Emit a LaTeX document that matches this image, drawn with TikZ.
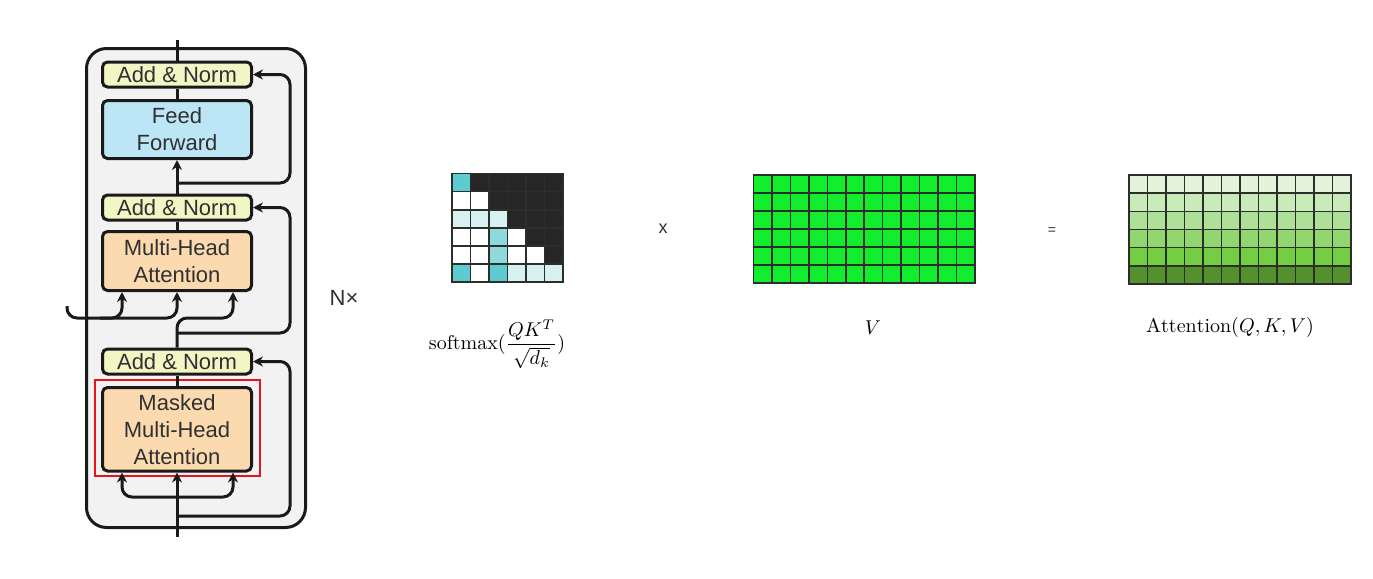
\documentclass[tikz,border=0pt]{standalone}
\usepackage{fontspec}
\usetikzlibrary{arrows.meta}
\newfontfamily\boxfont{Liberation Sans}

\definecolor{boxline}{HTML}{1A1A1A}
\definecolor{boxtext}{HTML}{303030}
\definecolor{layerfill}{HTML}{F2F2F2}
\definecolor{normfill}{HTML}{F2F5C4}
\definecolor{fffill}{HTML}{BCE5F5}
\definecolor{attfill}{HTML}{FCDAB0}
\definecolor{maskred}{HTML}{E5141C}
\definecolor{cellline}{HTML}{2A2F2A}
\definecolor{sftA}{HTML}{5ECBD1}
\definecolor{sftB}{HTML}{8FD8DC}
\definecolor{sftC}{HTML}{D7F1F3}
\definecolor{sftK}{HTML}{262626}
\definecolor{vgreen}{HTML}{12EE2E}
\definecolor{attA}{HTML}{E4F4DC}
\definecolor{attB}{HTML}{C9EAB9}
\definecolor{attC}{HTML}{AEE099}
\definecolor{attD}{HTML}{93D66F}
\definecolor{attE}{HTML}{74CD42}
\definecolor{attF}{HTML}{55902E}

\tikzset{
  block/.style={draw=boxline, line width=1.5pt, rounded corners=2.5pt,
    minimum width=74.5pt, inner sep=0pt, align=center, text=boxtext,
    font=\boxfont\fontsize{11}{13.5}\selectfont},
  addnorm/.style={block, fill=normfill, minimum height=12.5pt},
  ffbox/.style={block, fill=fffill, minimum height=29pt},
  attbox/.style={block, fill=attfill},
  wire/.style={line width=1.5pt, draw=boxline},
  conn/.style={wire, rounded corners=5pt, -{Stealth[length=5pt,width=5pt]}},
  cell/.style={draw=cellline, line width=0.8pt},
  sign/.style={text=boxtext, font=\boxfont\fontsize{9}{10}\selectfont},
}

\begin{document}
\begin{tikzpicture}[x=0.5pt, y=-0.5pt]
  \useasboundingbox (0,0) rectangle (1373,579);

  % Decoder layer
  \node (layer) [draw=boxline, line width=1.5pt, rounded corners=10pt, fill=layerfill,
    minimum width=109.5pt, minimum height=239.5pt] at (196,288) {};
  \node (mask) [draw=maskred, line width=1pt, minimum width=82.5pt, minimum height=48pt]
    at (177.5,428) {};

  \node (addA) [addnorm] at (177,74.5) {Add \& Norm};
  \node (ff) [ffbox] at (177,129.5) {Feed\\Forward};
  \node (addB) [addnorm] at (177,207.5) {Add \& Norm};
  \node (mha) [attbox, minimum height=29.5pt] at (177,261) {Multi-Head\\Attention};
  \node (addC) [addnorm] at (177,361.5) {Add \& Norm};
  \node (mmha) [attbox, minimum height=41.75pt] at (177,429.25) {Masked\\Multi-Head\\Attention};

  \node (nx) [text=boxtext, font=\boxfont\fontsize{11}{13}\selectfont] at (344,298) {N×};

  \coordinate (top) at (177,40);
  \coordinate (bot) at (177,537);
  \coordinate (rx) at (290,0);
  \coordinate (r1) at (177,183);
  \coordinate (r2) at (177,333);
  \coordinate (r3) at (177,516);
  \coordinate (kin) at (67,306);
  \coordinate (kb) at (100,318);
  \coordinate (kv) at (177,318);
  \coordinate (b0) at (177,497);

  % Main stream
  \draw[wire] (addA.north) -- (top);
  \draw[wire] (ff.north) -- (addA.south);
  \draw[conn] (addB.north) -- (ff.south);
  \draw[wire] (mha.north) -- (addB.south);
  \draw[wire] (mmha.north) -- (addC.south);
  \draw[conn] (bot) -- (mmha.south);

  % Residual paths
  \draw[conn] (r1) -- (r1 -| rx) |- (addA.east);
  \draw[conn] (r2) -- (r2 -| rx) |- (addB.east);
  \draw[conn] (r3) -- (r3 -| rx) |- (addC.east);

  % Attention inputs
  \draw[conn] (kin) |- (kv) -- (mha.south);
  \draw[conn] (kb) -| ([xshift=-27.5pt]mha.south);
  \draw[conn] (addC.north) -- (kv) -| ([xshift=28pt]mha.south);
  \draw[conn] (b0) -| ([xshift=-27.5pt]mmha.south);
  \draw[conn] (b0) -| ([xshift=28pt]mmha.south);

  % Masked scores
  \foreach \row [count=\r from 0] in {{sftA,sftK,sftK,sftK,sftK,sftK},
      {white,white,sftK,sftK,sftK,sftK},{sftC,sftC,sftC,sftK,sftK,sftK},
      {white,white,sftB,white,sftK,sftK},{white,white,sftB,white,white,sftK},
      {sftA,white,sftA,sftC,sftC,sftC}}
    {
      \foreach \col [count=\c from 0] in \row
        \draw[cell, fill=\col] (452+\c*18.5,173.5+\r*18.1) rectangle ++(18.5,18.1);
    }

  % Values
  \foreach \r in {0,...,5}
    {
      \foreach \c in {0,...,11}
        \draw[cell, fill=vgreen] (753.5+\c*18.45,175+\r*17.95) rectangle ++(18.45,17.95);
    }

  % Result
  \foreach \col [count=\r from 0] in {attA,attB,attC,attD,attE,attF}
    {
      \foreach \c in {0,...,11}
        \draw[cell, fill=\col] (1129+\c*18.5,175+\r*18.15) rectangle ++(18.5,18.15);
    }

  % Labels
  \node (times) [sign] at (663,229) {x};
  \node (equals) [sign, font=\boxfont\fontsize{7}{8}\selectfont] at (1052,231) {=};
  \node (smlab) at (497,344) {$\displaystyle\mathrm{softmax}(\frac{QK^T}{\sqrt{d_k}})$};
  \node (vlab) at (873,328) {$V$};
  \node (attlab) at (1230,327) {$\mathrm{Attention}(Q,K,V)$};
\end{tikzpicture}
\end{document}
